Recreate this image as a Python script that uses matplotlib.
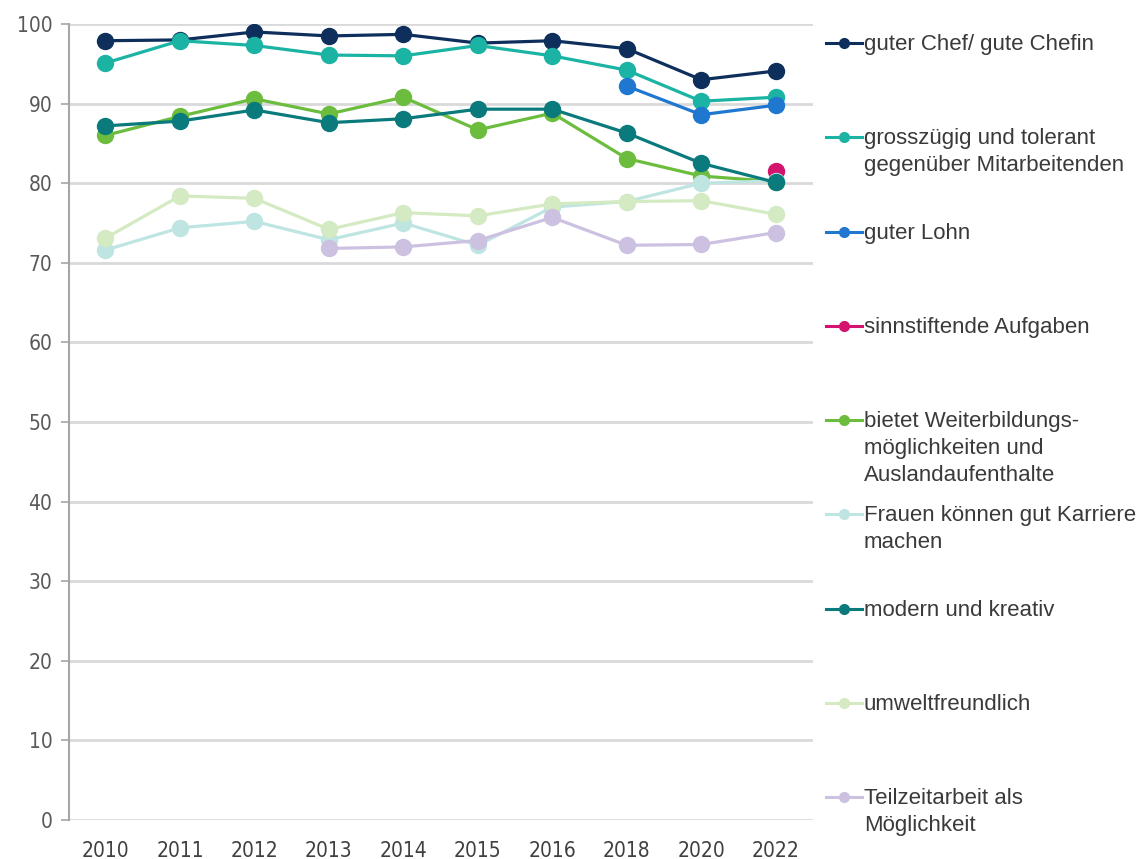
import matplotlib
matplotlib.use("Agg")
import matplotlib.pyplot as plt
from matplotlib.lines import Line2D
import numpy as np
from matplotlib import font_manager

years = ["2010", "2011", "2012", "2013", "2014", "2015", "2016", "2018", "2020", "2022"]

labels = [
    "guter Chef/ gute Chefin",
    "grosszügig und tolerant\ngegenüber Mitarbeitenden",
    "guter Lohn",
    "sinnstiftende Aufgaben",
    "bietet Weiterbildungs-\nmöglichkeiten und\nAuslandaufenthalte",
    "Frauen können gut Karriere\nmachen",
    "modern und kreativ",
    "umweltfreundlich",
    "Teilzeitarbeit als\nMöglichkeit",
]

N = None
chef = [97.9, 98.0, 99.0, 98.5, 98.7, 97.6, 97.9, 96.9, 93.0, 94.1]
grosszuegig = [95.1, 97.9, 97.3, 96.1, 96.0, 97.3, 96.0, 94.2, 90.3, 90.8]
lohn = [N, N, N, N, N, N, N, 92.2, 88.6, 89.8]
sinn = [N, N, N, N, N, N, N, N, N, 81.5]
weiterbildung = [86.0, 88.4, 90.6, 88.7, 90.8, 86.7, 88.8, 83.1, 80.9, 80.2]
frauen = [71.6, 74.4, 75.2, 72.9, 75.0, 72.2, 77.0, 77.7, 80.0, 80.3]
modern = [87.2, 87.8, 89.2, 87.6, 88.1, 89.3, 89.3, 86.3, 82.5, 80.1]
umwelt = [73.1, 78.4, 78.1, 74.2, 76.3, 75.9, 77.4, 77.7, 77.8, 76.1]
teilzeit = [N, N, N, 71.8, 72.0, 72.8, 75.7, 72.2, 72.3, 73.8]

series = [chef, grosszuegig, lohn, sinn, weiterbildung, frauen, modern, umwelt, teilzeit]
colors = ["#0e2f5c", "#1bb3a3", "#1f77d0", "#d3136e", "#6cbd3d",
          "#bfe5e2", "#0b7a7c", "#d4eac2", "#cdc1e2"]

# pick a condensed font for tick labels if one is installed
tick_font = dict(family="Liberation Sans")
names = {f.name for f in font_manager.fontManager.ttflist}
if "Liberation Sans Narrow" in names:
    tick_font = dict(family="Liberation Sans Narrow")
else:
    for f in font_manager.fontManager.ttflist:
        if f.name == "DejaVu Sans" and str(f.stretch).lower() in ("condensed", "semi-condensed"):
            tick_font = dict(family="DejaVu Sans", stretch="condensed")
            break

plt.rcParams["font.family"] = ["Liberation Sans", "DejaVu Sans"]

W, H = 1137, 859
fig = plt.figure(figsize=(W / 100, H / 100), dpi=100)
ax = fig.add_axes([69 / W, 1 - 820 / H, (813 - 69) / W, (820 - 24) / H])

x = np.arange(len(years))
for vals, c in zip(series, colors):
    y = np.array([np.nan if v is None else v for v in vals], dtype=float)
    ax.plot(x, y, color=c, lw=2.3, marker="o", ms=11.5, zorder=3,
            solid_capstyle="round")

ax.set_xlim(-0.49, 9.5)
ax.set_ylim(0, 100)
ax.set_yticks(np.arange(0, 101, 10))
ax.set_xticks(x)
ax.set_xticklabels(years)
ax.yaxis.grid(True, color="#d9d9d9", lw=2)
ax.set_axisbelow(True)
for s in ["top", "right", "bottom"]:
    ax.spines[s].set_visible(False)
ax.spines["left"].set_color("#a6a6a6")
ax.spines["left"].set_linewidth(1.5)
ax.tick_params(axis="y", length=6, width=1.2, color="#a6a6a6", pad=6,
               labelsize=15, labelcolor="#595959")
ax.tick_params(axis="x", length=0, pad=15, labelsize=15, labelcolor="#404040")
for t in ax.get_xticklabels() + ax.get_yticklabels():
    t.set_fontproperties(font_manager.FontProperties(size=15, **tick_font))

# legend
y0, step = 43, (797 - 43) / 8
for i, (lab, c) in enumerate(zip(labels, colors)):
    yp = 1 - (y0 + i * step) / H
    fig.add_artist(Line2D([826 / W, 862 / W], [yp, yp], color=c, lw=2.2,
                          transform=fig.transFigure))
    fig.add_artist(Line2D([844 / W], [yp], color=c, marker="o", ms=7,
                          transform=fig.transFigure))
    fig.text(864 / W, yp + 9 / H, lab, ha="left", va="top", fontsize=16,
             color="#3a3a3a", linespacing=1.38,
             transform=fig.transFigure)

fig.savefig("out.png", dpi=100)
